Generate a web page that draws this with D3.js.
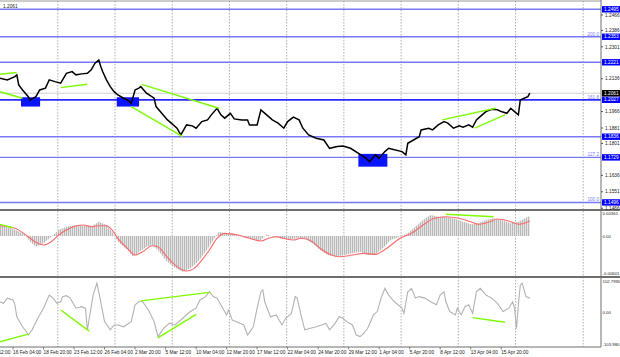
<!DOCTYPE html>
<html><head><meta charset="utf-8">
<script src="https://cdn.jsdelivr.net/npm/d3@7"></script>
<style>body{margin:0;background:#fff}svg{display:block}text{font-family:"Liberation Sans",Arial,sans-serif}</style>
</head><body><svg id="c" width="620" height="357"></svg>
<script>
// ---------- DATA ----------
const timeLabels = ["11 Feb 12:00","16 Feb 04:00","18 Feb 20:00","23 Feb 12:00","26 Feb 04:00","2 Mar 20:00","5 Mar 12:00","10 Mar 04:00","12 Mar 20:00","17 Mar 12:00","22 Mar 04:00","24 Mar 20:00","29 Mar 12:00","1 Apr 04:00","5 Apr 20:00","8 Apr 12:00","13 Apr 04:00","15 Apr 20:00"];
const labelBars = [0,16,32,48,64,80,96,112,128,144,160,176,192,208,224,240,256,272];
const gridBars = [39.5,69.5,99.5,129.5,159.5,189.5,219.5,249.5,279.5,315];

// price (close) path : bar index, price
const priceBars = [9,13,17,18,19,21,24,25,28,30,33,35,38,41,44,47,49,52,55,57,59,61,62,63,65,67,69,71,74,76,78,80,82,83,86,90,91,94,97,99,102,104,107,110,112,115,118,120,123,125,127,130,132,136,139,140,144,146,149,152,155,158,160,163,166,168,171,175,179,182,186,189,193,197,201,203,206,208,211,213,216,220,222,223,226,229,230,234,236,239,242,244,247,250,252,255,257,259,262,264,267,270,272,275,277,279,281,282,284,286,287];
const priceClose = [1.2139,1.2130,1.2147,1.2156,1.2104,1.2078,1.2043,1.2026,1.2043,1.2078,1.2087,1.2130,1.2121,1.2113,1.2164,1.2173,1.2156,1.2161,1.2164,1.2182,1.2216,1.2233,1.2199,1.2173,1.2130,1.2095,1.2069,1.2052,1.2035,1.2026,1.2009,1.2078,1.2087,1.2095,1.2061,1.2035,1.1992,1.1957,1.1923,1.1906,1.1880,1.1845,1.1897,1.1892,1.1880,1.1914,1.1923,1.1949,1.1983,1.1949,1.1932,1.1957,1.1928,1.1923,1.1923,1.1897,1.1897,1.1975,1.1949,1.1923,1.1906,1.1880,1.1914,1.1937,1.1923,1.1880,1.1845,1.1828,1.1819,1.1776,1.1785,1.1788,1.1776,1.1751,1.1725,1.1707,1.1742,1.1725,1.1759,1.1776,1.1768,1.1759,1.1742,1.1802,1.1819,1.1836,1.1871,1.1880,1.1871,1.1897,1.1914,1.1906,1.1880,1.1892,1.1885,1.1897,1.1885,1.1923,1.1949,1.1966,1.1978,1.1975,1.1966,1.1957,1.1983,1.1966,1.1949,1.2026,1.2035,1.2043,1.2061];
const lastPrice = 1.2061;

const priceTicks = [1.2466,1.2386,1.2301,1.2136,1.1966,1.1881,1.1801,1.1636,1.1551,1.1466];
const levelPrices = [1.2495,1.2353,1.2221,1.2027,1.1836,1.1729,1.1496];
const levelLabels = ["1.2495","1.2353","1.2221","1.2027","1.1836","1.1729","1.1496"];
const fibPrices = [1.2353,1.2027,1.1729,1.1496];
const fibLabels = ["200.0","161.8","127.2","100.0"];

// highlighted zones: [bar0, bar1, priceLow, priceHigh]
const zoneBar0 = [20.2,70.4,197.1];
const zoneBar1 = [30.2,82.1,212.3];
const zoneLow  = [1.1992,1.1992,1.1681];
const zoneHigh = [1.2040,1.2040,1.1747];

// trend lines on price: bar0, p0, bar1, p1
const tlBar0 = [9.2,9.2,41,83.5,78,241,258];
const tlP0   = [1.2159,1.2069,1.2090,1.2107,1.1992,1.1923,1.1880];
const tlBar1 = [18,21,55,124,105,269,274];
const tlP1   = [1.2168,1.2035,1.2107,1.1983,1.1836,1.1983,1.1949];

// MACD histogram
const macdBars = [9,15,22,25,28,32,36,40,44,49,53,57,61,65,68,71,76,79,82,86,89,92,96,100,105,109,113,117,121,124,127,131,138,142,146,149,152,156,160,165,169,173,177,181,185,190,194,198,202,206,210,214,219,223,227,231,235,239,243,248,252,256,260,264,268,272,277,281,285,287];
const macdVals = [0.00176,0.00124,0.00027,-0.00091,-0.00172,-0.00117,-0.00011,0.00096,0.00149,0.00176,0.00165,0.00149,0.00229,0.00176,0.00069,-0.00091,-0.00225,-0.00332,-0.00252,-0.00172,-0.00144,-0.00225,-0.00385,-0.00493,-0.00573,-0.00518,-0.00412,-0.00252,-0.00064,0.00069,0.00043,0.00043,-0.00011,-0.00064,-0.00064,0.00027,-0.00011,-0.00037,-0.00064,-0.00037,-0.00037,-0.00117,-0.00225,-0.00305,-0.00332,-0.00305,-0.00278,-0.00252,-0.00305,-0.00294,-0.00197,-0.00064,-0.00011,0.00043,0.00149,0.00257,0.00337,0.0031,0.0031,0.00273,0.00229,0.00188,0.00204,0.00257,0.00284,0.00257,0.00204,0.00229,0.00294,0.00321];
// MACD signal
const sigBars = [9,17,24,28,32,36,40,44,49,53,57,61,65,68,71,76,80,84,89,92,96,100,107,111,115,119,123,127,134,140,146,150,154,158,163,167,173,177,183,187,194,200,206,212,219,225,231,237,243,250,256,260,266,270,277,281,287];
const sigVals = [0.00165,0.00124,-0.00011,-0.00101,-0.00144,-0.00091,0.00016,0.00096,0.0016,0.00176,0.00149,0.00165,0.00165,0.00096,-0.00037,-0.00197,-0.00305,-0.00252,-0.00156,-0.00172,-0.00305,-0.00438,-0.00562,-0.00518,-0.00385,-0.00225,-0.00037,0.00043,0.00016,-0.00037,-0.0008,-0.00037,-0.00011,-0.00037,-0.00064,-0.00037,-0.00091,-0.00197,-0.00305,-0.00332,-0.00305,-0.00278,-0.00294,-0.00197,-0.00037,0.00043,0.00176,0.00284,0.0031,0.00284,0.00229,0.00188,0.00229,0.00273,0.00229,0.00188,0.00241];
const macdTLBar0 = [9,243], macdTLV0 = [0.00188,0.00348], macdTLBar1 = [16,268], macdTLV1 = [0.00133,0.0031];
const macdTicks = [0.00361,0,-0.00601];
const macdTickLabels = ["0.00361","0.00","-0.00601"];

// CCI
const cciBars = [9,11,13,16,17,18,21,23,24,26,29,32,35,37,39,41,42,44,46,49,52,54,55,56,58,60,62,64,67,69,71,74,78,80,82,84,87,90,92,95,98,101,105,109,112,114,117,119,121,123,126,128,129,131,135,137,139,142,144,146,147,148,151,154,157,159,162,164,165,167,169,172,175,178,180,182,185,187,189,191,194,196,198,200,202,205,207,209,211,213,216,220,221,223,225,227,229,232,235,238,240,242,243,245,248,249,251,253,255,257,259,261,264,267,270,273,276,278,279,280,281,282,283,285,287];
const cciVals = [35,30,47,41,25,-14,-47,-63,-74,-57,-19,14,57,47,30,35,52,55,47,14,19,14,-57,-19,57,96,35,-30,-57,-41,-41,-47,-30,25,35,35,8,-30,-79,-52,-35,-41,-19,3,14,41,52,68,52,47,14,-8,8,-25,-35,-41,-74,-47,14,68,74,35,-14,-8,-41,-19,-3,52,47,-8,-57,-52,-47,-41,-35,-57,-35,-14,-19,-30,-41,-74,-79,-68,-52,-8,3,47,79,57,35,14,-3,68,79,47,52,47,35,25,57,68,35,3,-8,14,-8,19,25,-3,68,79,57,47,30,3,14,35,14,-52,25,90,96,52,47];
const cciTLBar0 = [9,41,83,92,257], cciTLV0 = [-96,8,38,-83,-17], cciTLBar1 = [24,56,119,112,274], cciTLV1 = [-71,-61,66,-6,-32];
const cciTicks = [102.799,0,-103.98];
const cciTickLabels = ["102.7990","0.00","-103.980"];

// ---------- LAYOUT ----------
const W = 620, plotR = 601;
const svg = d3.select("#c");
const x = d3.scaleLinear().domain([0, 272]).range([-17.5, -17.5 + 272*1.907]);
const yP = d3.scaleLinear().domain([1.1462, 1.2538]).range([209, 1]);
const yM = d3.scaleLinear().domain([-0.00601, 0.00361]).range([273.5, 213.5]);
const yC = d3.scaleLinear().domain([-103.98, 102.799]).range([344.2, 281.1]);

const defs = svg.append("defs");
const pat = defs.append("pattern").attr("id","hist").attr("patternUnits","userSpaceOnUse").attr("width",2).attr("height",4);
pat.append("rect").attr("width",2).attr("height",4).attr("fill","#e6e6e6");
pat.append("rect").attr("width",1).attr("height",4).attr("fill","#b8b8b8");
const clips = [["cp",1,209],["cm",211,277],["cc",278,347]];
clips.forEach(([id,y0,y1]) => defs.append("clipPath").attr("id",id).append("rect").attr("x",0).attr("y",y0).attr("width",plotR).attr("height",y1-y0));

svg.append("rect").attr("width",W).attr("height",357).attr("fill","#fff");

// grid
const g = svg.append("g");
gridBars.forEach(b => g.append("line").attr("x1",x(b)).attr("x2",x(b)).attr("y1",1).attr("y2",347)
  .attr("stroke","#9a9a9a").attr("stroke-width",0.8).attr("stroke-dasharray","1.5,1.5"));

// main pane
const mp = svg.append("g").attr("clip-path","url(#cp)");
mp.append("line").attr("x1",0).attr("x2",plotR).attr("y1",yP(lastPrice)).attr("y2",yP(lastPrice)).attr("stroke","#cfcfcf").attr("stroke-width",1);
levelPrices.forEach((p,i) => mp.append("line").attr("x1",0).attr("x2",plotR).attr("y1",yP(p)).attr("y2",yP(p))
  .attr("stroke", i===3 ? "#2a2aff" : "#7878f4").attr("stroke-width", i===3 ? 1.8 : 1.4));
zoneBar0.forEach((b,i) => mp.append("rect").attr("x",x(b)).attr("width",x(zoneBar1[i])-x(b))
  .attr("y",yP(zoneHigh[i])).attr("height",yP(zoneLow[i])-yP(zoneHigh[i])).attr("fill","#0a14ff"));
const pts = priceBars.map((b,i)=>[b,priceClose[i]]);
mp.append("path").datum(pts).attr("fill","none").attr("stroke","#000").attr("stroke-width",1.5)
  .attr("stroke-linejoin","miter").attr("d", d3.line().x(d=>x(d[0])).y(d=>yP(d[1])));
tlBar0.forEach((b,i) => mp.append("line").attr("x1",x(b)).attr("y1",yP(tlP0[i])).attr("x2",x(tlBar1[i])).attr("y2",yP(tlP1[i]))
  .attr("stroke","#7cfc00").attr("stroke-width",1.4));
fibPrices.forEach((p,i) => svg.append("text").attr("x",599).attr("y",yP(p)-1).attr("text-anchor","end")
  .attr("font-size",4.6).attr("fill","#7c7cff").text(fibLabels[i]));

// MACD pane
const mg = svg.append("g").attr("clip-path","url(#cm)");
const hp = macdBars.map((b,i)=>[b,macdVals[i]]);
mg.append("path").datum(hp).attr("fill","url(#hist)")
  .attr("d", d3.area().x(d=>x(d[0])).y0(yM(0)).y1(d=>yM(d[1])));
const sp = sigBars.map((b,i)=>[b,sigVals[i]]);
mg.append("path").datum(sp).attr("fill","none").attr("stroke","#fb6a6a").attr("stroke-width",1.1)
  .attr("d", d3.line().curve(d3.curveMonotoneX).x(d=>x(d[0])).y(d=>yM(d[1])));
macdTLBar0.forEach((b,i) => mg.append("line").attr("x1",x(b)).attr("y1",yM(macdTLV0[i])).attr("x2",x(macdTLBar1[i])).attr("y2",yM(macdTLV1[i]))
  .attr("stroke","#7cfc00").attr("stroke-width",1.4));

// CCI pane
const cg = svg.append("g").attr("clip-path","url(#cc)");
const cp = cciBars.map((b,i)=>[b,cciVals[i]]);
cg.append("path").datum(cp).attr("fill","none").attr("stroke","#b2b2b2").attr("stroke-width",1.1)
  .attr("d", d3.line().x(d=>x(d[0])).y(d=>yC(d[1])));
cciTLBar0.forEach((b,i) => cg.append("line").attr("x1",x(b)).attr("y1",yC(cciTLV0[i])).attr("x2",x(cciTLBar1[i])).attr("y2",yC(cciTLV1[i]))
  .attr("stroke","#7cfc00").attr("stroke-width",1.4));

// frames & separators
svg.append("line").attr("x1",0).attr("x2",plotR).attr("y1",1).attr("y2",1).attr("stroke","#9a9a9a").attr("stroke-width",1);
[210,277].forEach(yy => svg.append("line").attr("x1",0).attr("x2",W).attr("y1",yy).attr("y2",yy).attr("stroke","#6e6e6e").attr("stroke-width",2));
svg.append("line").attr("x1",0).attr("x2",plotR).attr("y1",347).attr("y2",347).attr("stroke","#6e6e6e").attr("stroke-width",1);
svg.append("line").attr("x1",plotR).attr("x2",plotR).attr("y1",0).attr("y2",347).attr("stroke","#6e6e6e").attr("stroke-width",1);

// right axis - price
const ax = svg.append("g");
priceTicks.forEach(p => {
  ax.append("line").attr("x1",plotR).attr("x2",plotR+2).attr("y1",yP(p)).attr("y2",yP(p)).attr("stroke","#555");
  ax.append("text").attr("x",605).attr("y",yP(p)+1.7).attr("font-size",4.8).attr("fill","#222").text(p.toFixed(4));
});
levelPrices.forEach((p,i) => {
  ax.append("rect").attr("x",plotR+1).attr("y",yP(p)-3.2).attr("width",18).attr("height",6.4).attr("fill","#0000ff");
  ax.append("text").attr("x",604).attr("y",yP(p)+1.7).attr("font-size",4.8).attr("fill","#fff").text(levelLabels[i]);
});
ax.append("rect").attr("x",plotR+1).attr("y",yP(lastPrice)-3.2).attr("width",18).attr("height",6.4).attr("fill","#000");
ax.append("text").attr("x",604).attr("y",yP(lastPrice)+1.7).attr("font-size",4.8).attr("fill","#fff").text(lastPrice.toFixed(4));
macdTicks.forEach((v,i) => ax.append("text").attr("x",602.5).attr("y",yM(v)+1.6).attr("font-size",4.3).attr("fill","#222").text(macdTickLabels[i]));
cciTicks.forEach((v,i) => ax.append("text").attr("x",602.5).attr("y",yC(v)+1.6).attr("font-size",4.3).attr("fill","#222").text(cciTickLabels[i]));

// top-left label
svg.append("text").attr("x",3).attr("y",7.5).attr("font-size",4.8).attr("fill","#222").text(lastPrice.toFixed(4));

// time axis
labelBars.forEach((b,i) => {
  svg.append("line").attr("x1",x(b)).attr("x2",x(b)).attr("y1",347).attr("y2",349.5).attr("stroke","#555").attr("stroke-width",0.7);
  svg.append("text").attr("x",x(b)).attr("y",353.5).attr("font-size",4.8).attr("fill","#222").text(timeLabels[i]);
});
</script></body></html>
